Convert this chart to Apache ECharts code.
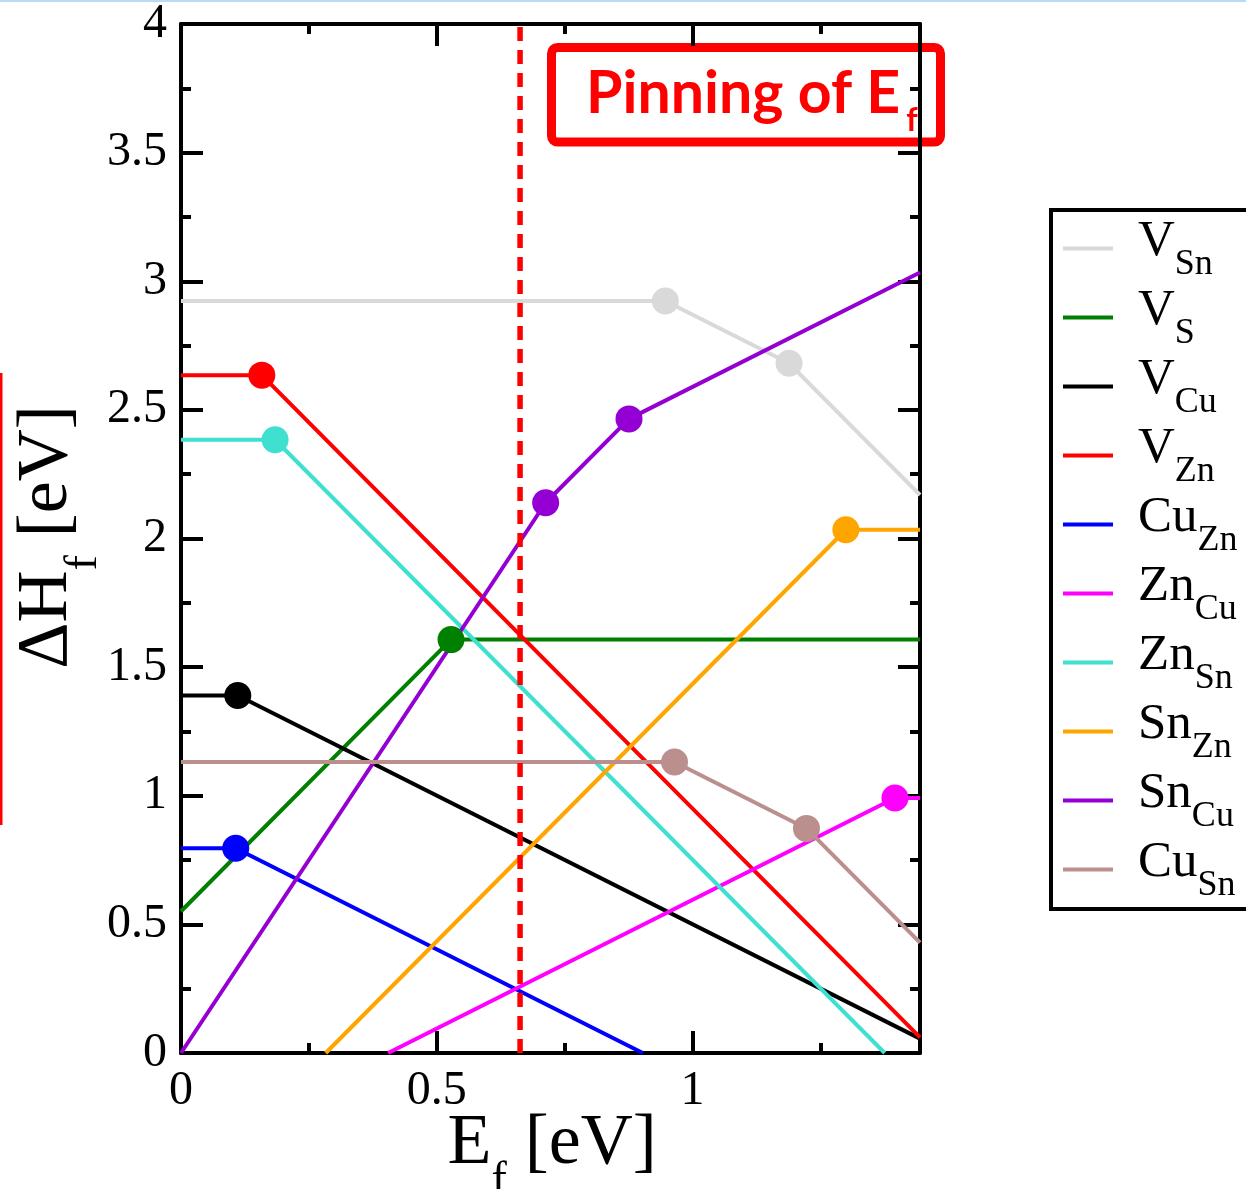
<!DOCTYPE html>
<html>
<head>
<meta charset="utf-8">
<title>Defect formation energies vs Fermi level</title>
<script src="https://cdn.jsdelivr.net/npm/echarts@6/dist/echarts.min.js"></script>
<style>
  html, body { margin: 0; padding: 0; background: #ffffff; }
  #chart { width: 1246px; height: 1189px; }
</style>
</head>
<body>
<div id="chart"></div>
<script>
// Fermi-level window (eV) and formation-energy window (eV)
const xRange = [0, 1.445];
const yRange = [0, 4];
const tickStep = 0.5;

// Defect names: [species, site]
const defectNames = [
  ['V', 'Sn'], ['V', 'S'], ['V', 'Cu'], ['V', 'Zn'], ['Cu', 'Zn'],
  ['Zn', 'Cu'], ['Zn', 'Sn'], ['Sn', 'Zn'], ['Sn', 'Cu'], ['Cu', 'Sn']
];
const defectColors = [
  '#d9d9d9', '#008000', '#000000', '#ff0000', '#0000ff',
  '#ff00ff', '#40e0d0', '#ffa500', '#9400d3', '#bc8f8f'
];

// Formation energy vs E_f: [E_f, dH_f]; interior points are charge-transition levels
const vSn  = [[0, 2.923], [0.947, 2.923], [1.189, 2.681], [1.445, 2.169]];
const vS   = [[0, 0.551], [0.528, 1.607], [1.445, 1.607]];
const vCu  = [[0, 1.390], [0.111, 1.390], [1.445, 0.056]];
const vZn  = [[0, 2.635], [0.158, 2.635], [1.445, 0.061]];
const cuZn = [[0, 0.796], [0.107, 0.796], [0.903, 0]];
const znCu = [[0.405, 0], [1.396, 0.991], [1.445, 0.991]];
const znSn = [[0, 2.384], [0.184, 2.384], [1.376, 0]];
const snZn = [[0.283, 0], [1.300, 2.034], [1.445, 2.034]];
const snCu = [[0, 0], [0.713, 2.139], [0.876, 2.465], [1.445, 3.034]];
const cuSn = [[0, 1.131], [0.965, 1.131], [1.223, 0.873], [1.445, 0.429]];

const defectData = [vSn, vS, vCu, vZn, cuZn, znCu, znSn, snZn, snCu, cuSn];

// Pinned Fermi level (eV)
const pinnedEf = 0.663;

const serifFont = '"Liberation Serif", "Times New Roman", serif';

const seriesNames = defectNames.map(d => d[0] + '_' + d[1]);

const defectSeries = defectData.map((pts, k) => ({
  type: 'line',
  name: seriesNames[k],
  data: pts.map((p, i) => ({
    value: p,
    symbol: (i > 0 && i < pts.length - 1) ? 'circle' : 'none'
  })),
  symbolSize: 27,
  showAllSymbol: true,
  lineStyle: { color: defectColors[k], width: 4 },
  itemStyle: { color: defectColors[k] },
  emphasis: { disabled: true },
  clip: true,
  animation: false
}));

const pinSeries = {
  type: 'line',
  name: 'pinned',
  data: [[pinnedEf, yRange[0]], [pinnedEf, yRange[1]]],
  symbol: 'none',
  lineStyle: { color: '#ff0000', width: 5.5, type: [14, 9] },
  silent: true,
  animation: false
};

const tickStyle = { show: true, inside: true, length: 22, lineStyle: { color: '#000', width: 4 } };
const minorStyle = { show: true, splitNumber: 2, length: 10, lineStyle: { color: '#000', width: 4 } };
const lineStyleAxis = { show: true, onZero: false, lineStyle: { color: '#000', width: 4 } };

function xAxisOf(position, labels) {
  return {
    type: 'value', position: position,
    min: xRange[0], max: xRange[1], interval: tickStep,
    axisLine: lineStyleAxis, axisTick: tickStyle, minorTick: minorStyle,
    splitLine: { show: false }, minorSplitLine: { show: false },
    axisLabel: {
      show: labels, showMaxLabel: false, margin: 14,
      fontFamily: serifFont, fontSize: 48, color: '#000'
    }
  };
}
function yAxisOf(position, labels) {
  return {
    type: 'value', position: position,
    min: yRange[0], max: yRange[1], interval: tickStep,
    axisLine: lineStyleAxis, axisTick: tickStyle, minorTick: minorStyle,
    splitLine: { show: false }, minorSplitLine: { show: false },
    axisLabel: {
      show: labels, margin: 14,
      fontFamily: serifFont, fontSize: 48, color: '#000'
    }
  };
}

const chart = echarts.init(document.getElementById('chart'), null, { renderer: 'canvas' });

chart.setOption({
  backgroundColor: '#ffffff',
  animation: false,
  grid: { left: 181, top: 22, right: 326, bottom: 136, containLabel: false },
  xAxis: [xAxisOf('bottom', true), xAxisOf('top', false)],
  yAxis: [yAxisOf('left', true), yAxisOf('right', false)],
  legend: {
    data: seriesNames,
    orient: 'vertical',
    left: 1051,
    top: 210,
    padding: [4, 40, 5, 12],
    itemGap: 0,
    itemWidth: 50,
    itemHeight: 4,
    icon: 'rect',
    borderColor: '#000',
    borderWidth: 4,
    borderRadius: 0,
    selectedMode: false,
    formatter: name => {
      const parts = name.split('_');
      return '{m|' + parts[0] + '}{s|' + parts[1] + '}';
    },
    textStyle: {
      fontFamily: serifFont,
      color: '#000',
      rich: {
        m: { fontFamily: serifFont, fontSize: 51, lineHeight: 50, padding: [2, 0, 16, 20], color: '#000' },
        s: { fontFamily: serifFont, fontSize: 36, lineHeight: 36, padding: [32, 0, 0, 0], color: '#000' }
      }
    }
  },
  graphic: [
    { type: 'rect', shape: { x: 0, y: 0, width: 1246, height: 2 }, style: { fill: '#b7dcf8' }, silent: true },
    { type: 'rect', shape: { x: 0, y: 373, width: 2.5, height: 452 }, style: { fill: '#ff0000' }, silent: true },
    {
      type: 'text', x: 552, y: 1120,
      style: {
        text: '{m|E}{s|f}{m| [eV]}',
        align: 'center', verticalAlign: 'top',
        rich: {
          m: { fontFamily: serifFont, fontSize: 72, lineHeight: 72, padding: [0, 0, 23, 0], fill: '#000' },
          s: { fontFamily: serifFont, fontSize: 46, lineHeight: 46, padding: [49, 0, 0, 0], fill: '#000' }
        }
      },
      silent: true
    },
    {
      type: 'text', x: 23, y: 537, rotation: Math.PI / 2,
      style: {
        text: '{m|\u0394H}{s|f}{m| [eV]}',
        align: 'center', verticalAlign: 'top',
        rich: {
          m: { fontFamily: serifFont, fontSize: 72, lineHeight: 72, padding: [0, 0, 23, 0], fill: '#000' },
          s: { fontFamily: serifFont, fontSize: 46, lineHeight: 46, padding: [49, 0, 0, 0], fill: '#000' }
        }
      },
      silent: true
    },
    {
      type: 'rect', shape: { x: 551.5, y: 47.5, width: 389, height: 94.5, r: 6 },
      style: { fill: 'rgba(0,0,0,0)', stroke: '#ff0000', lineWidth: 9 },
      silent: true
    },
    {
      type: 'text', x: 586, y: 72,
      style: {
        text: '{m|Pinning of E}{s|f}',
        align: 'left', verticalAlign: 'top',
        rich: {
          m: { fontFamily: 'Lato', fontWeight: 'bold', fontSize: 59, lineHeight: 58, padding: [0, 0, 14, 0], fill: '#ff0000' },
          s: { fontFamily: 'Lato', fontWeight: 'bold', fontSize: 32, lineHeight: 32, padding: [40, 0, 0, 6], fill: '#ff0000' }
        }
      },
      silent: true
    }
  ],
  series: defectSeries.concat([pinSeries])
});
</script>
</body>
</html>
